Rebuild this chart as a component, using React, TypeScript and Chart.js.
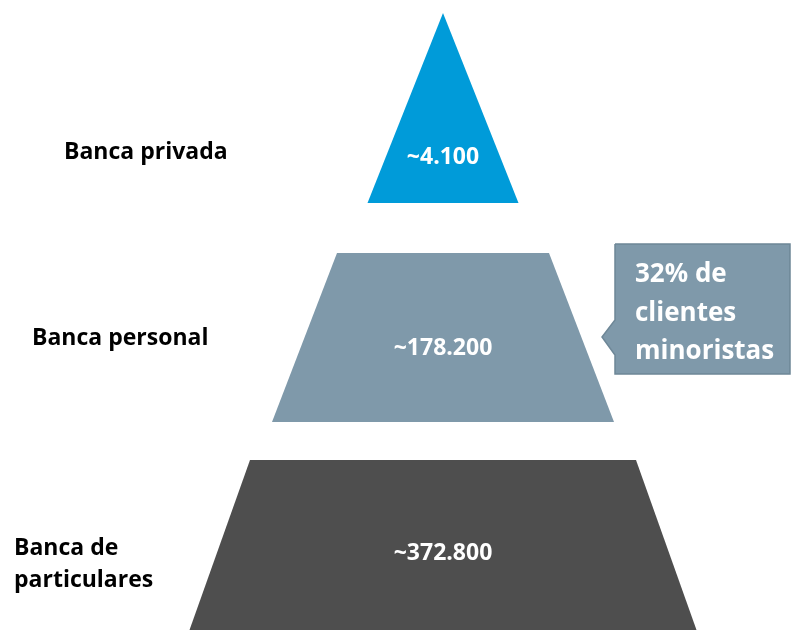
import React, { useEffect, useRef } from 'react';
import { Chart, registerables } from 'chart.js';

Chart.register(...registerables);

// ---- data ----
const tierLabels: string[][] = [['Banca privada'], ['Banca personal'], ['Banca de', 'particulares']];
const clientCounts: number[] = [4100, 178200, 372800];
const tierColors: string[] = ['#009bd9', '#7f99aa', '#4e4e4e'];
const calloutLines: string[] = ['32% de', 'clientes', 'minoristas'];
const calloutColor = '#7f99aa';

// ---- layout (shape geometry in layout units) ----
const CENTER = 443;
const tierShapes = [
  { top: 13, bottom: 203, topHalf: 0, bottomHalf: 75.5 },
  { top: 253, bottom: 422, topHalf: 106, bottomHalf: 171 },
  { top: 460, bottom: 630, topHalf: 193, bottomHalf: 253.5 },
];
const labelPos = [
  { x: 64, y: 152 },
  { x: 32, y: 338 },
  { x: 14, y: 564 },
];
const valueY = [157, 348, 553];
const callout = { left: 615, right: 790, top: 244, bottom: 374, tipX: 602, tipY: 337, baseTop: 320, baseBottom: 355 };

const FONT = '"Open Sans", "Noto Sans", sans-serif';

function fmt(n: number): string {
  return '~' + String(n).replace(/\B(?=(\d{3})+(?!\d))/g, '.');
}

function tierPolygon(i: number) {
  const s = tierShapes[i];
  return [
    { x: CENTER - s.topHalf, y: s.top },
    { x: CENTER + s.topHalf, y: s.top },
    { x: CENTER + s.bottomHalf, y: s.bottom },
    { x: CENTER - s.bottomHalf, y: s.bottom },
  ];
}

function calloutPolygon() {
  const c = callout;
  return [
    { x: c.left, y: c.top },
    { x: c.right, y: c.top },
    { x: c.right, y: c.bottom },
    { x: c.left, y: c.bottom },
    { x: c.left, y: c.baseBottom },
    { x: c.tipX, y: c.tipY },
    { x: c.left, y: c.baseTop },
    { x: c.left, y: c.top },
  ];
}

const textPlugin = {
  id: 'pyramidText',
  afterDatasetsDraw(chart: any) {
    const ctx = chart.ctx;
    const xs = chart.scales.x;
    const ys = chart.scales.y;
    ctx.save();
    ctx.textBaseline = 'middle';
    // left labels
    ctx.fillStyle = '#000000';
    ctx.textAlign = 'left';
    ctx.font = `bold 23px ${FONT}`;
    tierLabels.forEach((lines, i) => {
      const lh = 32;
      const y0 = labelPos[i].y - ((lines.length - 1) * lh) / 2;
      lines.forEach((t, j) => {
        ctx.fillText(t, xs.getPixelForValue(labelPos[i].x), ys.getPixelForValue(y0 + j * lh));
      });
    });
    // values
    ctx.fillStyle = '#ffffff';
    ctx.textAlign = 'center';
    ctx.font = `bold 23px ${FONT}`;
    clientCounts.forEach((v, i) => {
      ctx.fillText(fmt(v), xs.getPixelForValue(CENTER), ys.getPixelForValue(valueY[i]));
    });
    // callout
    ctx.textAlign = 'left';
    ctx.font = `bold 26px ${FONT}`;
    calloutLines.forEach((t, j) => {
      ctx.fillText(t, xs.getPixelForValue(635), ys.getPixelForValue(275 + j * 38.5));
    });
    ctx.restore();
  },
};

export default function App() {
  const ref = useRef<HTMLCanvasElement | null>(null);
  useEffect(() => {
    if (!ref.current) return;
    const datasets: any[] = clientCounts.map((_, i) => ({
      label: tierLabels[i].join(' '),
      data: tierPolygon(i),
      showLine: true,
      fill: 'shape',
      backgroundColor: tierColors[i],
      borderWidth: 0,
      pointRadius: 0,
      tension: 0,
    }));
    datasets.push({
      label: 'callout',
      data: calloutPolygon(),
      showLine: true,
      fill: 'shape',
      backgroundColor: calloutColor,
      borderColor: '#6e8797',
      borderWidth: 1.5,
      pointRadius: 0,
      tension: 0,
    });
    const chart = new Chart(ref.current, {
      type: 'scatter',
      data: { datasets },
      options: {
        animation: false,
        responsive: false,
        layout: { padding: 0 },
        scales: {
          x: { type: 'linear', min: 0, max: 792, display: false },
          y: { type: 'linear', min: 0, max: 630, reverse: true, display: false },
        },
        plugins: { legend: { display: false }, tooltip: { enabled: false } },
        elements: { line: { borderJoinStyle: 'miter' } },
      },
      plugins: [textPlugin],
    } as any);
    return () => chart.destroy();
  }, []);
  return (
    <div style={{ position: 'absolute', left: 0, top: 0, width: 792, height: 630, background: '#ffffff' }}>
      <canvas ref={ref} width={792} height={630} style={{ display: 'block' }} />
    </div>
  );
}
